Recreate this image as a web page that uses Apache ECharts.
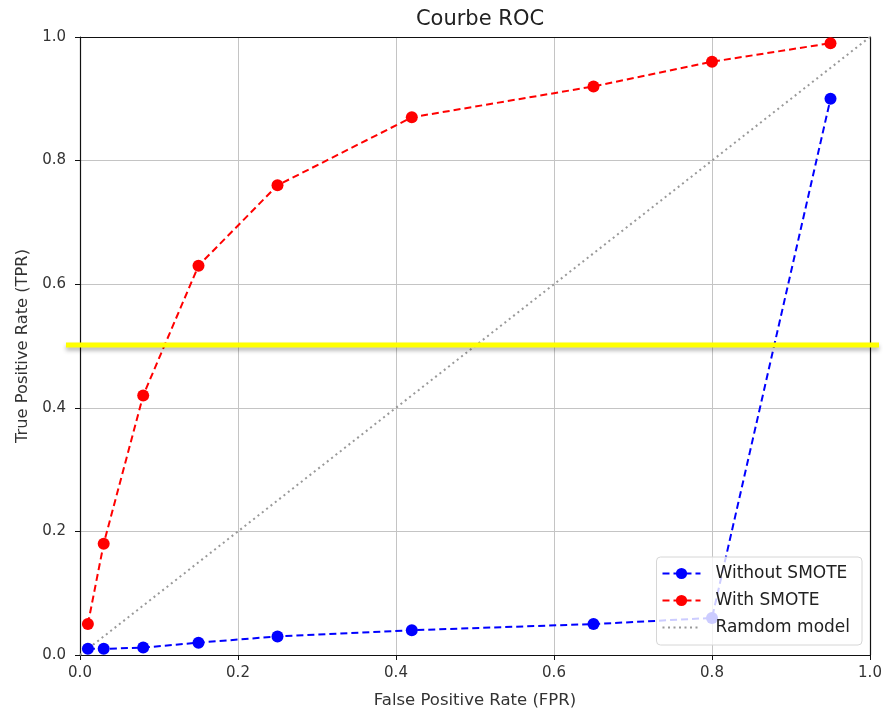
<!DOCTYPE html>
<html><head><meta charset="utf-8">
<script src="https://cdn.jsdelivr.net/npm/echarts@6/dist/echarts.min.js"></script>
<style>html,body{margin:0;padding:0;background:#fff}#c{width:887px;height:714px}</style>
</head><body><div id="c"></div>
<script>
const fprWithout = [0.01, 0.03, 0.08, 0.15, 0.25, 0.42, 0.65, 0.80, 0.95];
const tprWithout = [0.01, 0.01, 0.012, 0.02, 0.03, 0.04, 0.05, 0.06, 0.90];
const fprWith = [0.01, 0.03, 0.08, 0.15, 0.25, 0.42, 0.65, 0.80, 0.95];
const tprWith = [0.05, 0.18, 0.42, 0.63, 0.76, 0.87, 0.92, 0.96, 0.99];
const randomX = [0, 1];
const randomY = [0, 1];
const highlightY = 0.5;
const seriesNames = ['Without SMOTE', 'With SMOTE', 'Ramdom model'];
const titleText = 'Courbe ROC';
const xName = 'False Positive Rate (FPR)';
const yName = 'True Positive Rate (TPR)';

const zip = (a, b) => a.map((v, i) => [v, b[i]]);
const font = 'DejaVu Sans';
const chart = echarts.init(document.getElementById('c'));
const axisCommon = {
  type: 'value', min: 0, max: 1, interval: 0.2,
  axisLine: {show: true, onZero: false, lineStyle: {color: '#111', width: 1.2}},
  axisTick: {show: true, length: 5, lineStyle: {color: '#111'}},
  axisLabel: {color: '#333', fontFamily: font, fontSize: 15, margin: 6, formatter: v => v.toFixed(1)},
  splitLine: {show: true, lineStyle: {color: '#c4c4c4', width: 1}},
  nameLocation: 'middle',
  nameTextStyle: {color: '#333', fontFamily: font, fontSize: 16.5}
};
const frameAxis = {
  type: 'value', min: 0, max: 1, interval: 0.2,
  axisLine: {show: true, onZero: false, lineStyle: {color: '#111', width: 1.2}},
  axisTick: {show: false}, axisLabel: {show: false}, splitLine: {show: false}
};
chart.setOption({
  animation: false,
  title: {text: titleText, left: 475, top: 4, textAlign: 'center',
    textStyle: {fontFamily: font, fontSize: 21, fontWeight: 'normal', color: '#222'}},
  grid: {left: 80, right: 17, top: 37, bottom: 59, containLabel: false},
  xAxis: [
    Object.assign({}, axisCommon, {position: 'bottom', name: xName, nameGap: 37,
      axisLabel: Object.assign({}, axisCommon.axisLabel, {margin: 11})}),
    Object.assign({}, frameAxis, {position: 'top'})
  ],
  yAxis: [
    Object.assign({}, axisCommon, {position: 'left', name: yName, nameGap: 49,
      axisLabel: Object.assign({}, axisCommon.axisLabel, {margin: 14}),
      nameTextStyle: Object.assign({}, axisCommon.nameTextStyle, {fontSize: 16.3})}),
    Object.assign({}, frameAxis, {position: 'right'})
  ],
  legend: {
    orient: 'vertical', right: 25, bottom: 69,
    data: [
      {name: seriesNames[0]},
      {name: seriesNames[1]},
      {name: seriesNames[2], itemStyle: {color: 'rgba(0,0,0,0)', borderWidth: 0}}
    ],
    itemWidth: 38, itemHeight: 14, itemGap: 10,
    padding: [8, 12, 9, 5],
    backgroundColor: 'rgba(255,255,255,0.8)',
    borderColor: '#d6d6d6', borderWidth: 1, borderRadius: 4,
    textStyle: {fontFamily: font, fontSize: 17, color: '#222', padding: [0, 0, 0, 10]}
  },
  series: [
    {name: seriesNames[0], type: 'line', data: zip(fprWithout, tprWithout),
      symbol: 'circle', symbolSize: 12, color: '#0000ff',
      lineStyle: {type: [7, 4], width: 2, color: '#0000ff'},
      itemStyle: {color: '#0000ff'}, z: 3},
    {name: seriesNames[1], type: 'line', data: zip(fprWith, tprWith),
      symbol: 'circle', symbolSize: 12, color: '#ff0000',
      lineStyle: {type: [7, 4], width: 2, color: '#ff0000'},
      itemStyle: {color: '#ff0000'}, z: 3},
    {name: seriesNames[2], type: 'line', data: zip(randomX, randomY),
      symbol: 'none', color: '#999999',
      lineStyle: {type: [2, 3.5], width: 2, color: '#999999'}, z: 2}
  ]
});
// yellow highlight line, positioned through the axis scale
const p0 = chart.convertToPixel({xAxisIndex: 0, yAxisIndex: 0}, [0, highlightY]);
const p1 = chart.convertToPixel({xAxisIndex: 0, yAxisIndex: 0}, [1, highlightY]);
chart.setOption({
  graphic: [{
    type: 'line', z: 100,
    shape: {x1: p0[0] - 14, y1: p0[1] - 1, x2: p1[0] + 9, y2: p1[1] - 1},
    style: {stroke: '#ffff00', lineWidth: 5, shadowColor: 'rgba(0,0,0,0.3)', shadowBlur: 4, shadowOffsetY: 3}
  }]
});
</script></body></html>
